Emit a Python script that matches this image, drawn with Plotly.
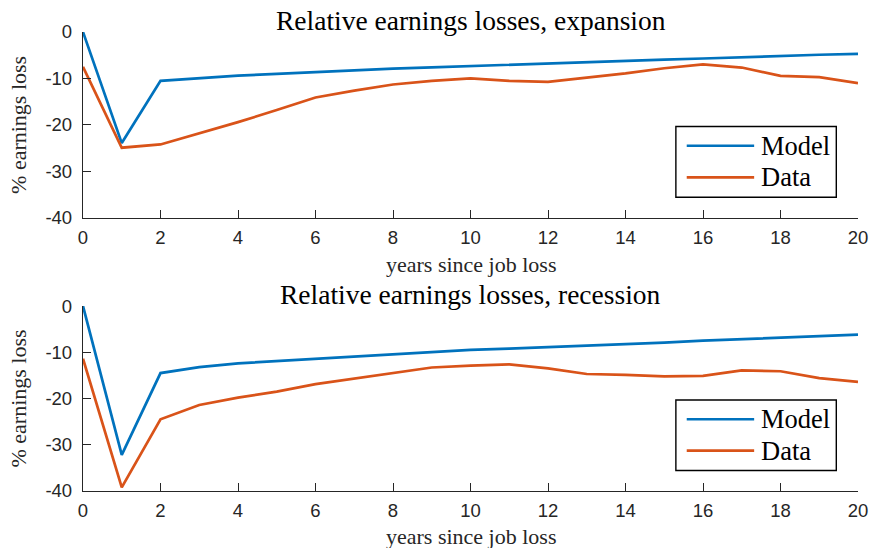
import plotly.graph_objects as go
from plotly.subplots import make_subplots

years = list(range(0, 21))

model_expansion = [0, -23.9, -10.5, -9.9, -9.4, -9.0, -8.6, -8.3, -7.9, -7.6, -7.3,
                   -7.0, -6.8, -6.5, -6.2, -5.95, -5.7, -5.4, -5.15, -4.9, -4.7]
data_expansion = [-7.5, -24.9, -24.2, -21.8, -19.4, -16.8, -14.1, -12.6, -11.3, -10.5, -10.0,
                  -10.5, -10.75, -9.8, -8.9, -7.8, -6.95, -7.65, -9.45, -9.7, -11.0]

model_recession = [0, -32.2, -14.5, -13.2, -12.4, -11.9, -11.4, -10.9, -10.4, -9.9, -9.5,
                   -9.2, -8.9, -8.55, -8.2, -7.9, -7.5, -7.2, -6.9, -6.55, -6.2]
data_recession = [-11.4, -39.2, -24.5, -21.4, -19.8, -18.5, -16.9, -15.7, -14.6, -13.3, -12.9,
                  -12.6, -13.5, -14.7, -14.9, -15.2, -15.1, -13.9, -14.1, -15.6, -16.4]

x_ticks = list(range(0, 21, 2))
y_ticks = [0, -10, -20, -30, -40]
y_tick_text = ["0", "-10", "-20", "-30", "-40"]

titles = ["Relative earnings losses, expansion", "Relative earnings losses, recession"]
series_names = ["Model", "Data"]
colors = ["#0072BD", "#D95319"]

fig = make_subplots(rows=2, cols=1, vertical_spacing=0.192)

panels = [(model_expansion, data_expansion), (model_recession, data_recession)]
for r, (m, d) in enumerate(panels, start=1):
    for vals, name, col in zip((m, d), series_names, colors):
        fig.add_trace(go.Scatter(x=years, y=vals, mode="lines", name=name,
                                 line=dict(color=col, width=2.7), cliponaxis=False,
                                 showlegend=False), row=r, col=1)

axis_color = "#262626"
tickfont = dict(family="Liberation Sans, Arial, sans-serif", size=18.5, color=axis_color)
for r in (1, 2):
    fig.update_xaxes(range=[0, 20], tickvals=x_ticks, ticks="inside", ticklen=8,
                     tickcolor=axis_color, tickwidth=1.2, showline=True, linecolor=axis_color,
                     linewidth=1.3, showgrid=False, zeroline=False, tickfont=tickfont,
                     ticklabelstandoff=3, automargin=False, row=r, col=1)
    fig.update_yaxes(range=[-40, 0], tickvals=y_ticks, ticktext=y_tick_text, ticks="inside",
                     ticklen=8, tickcolor=axis_color, tickwidth=1.2, showline=True,
                     linecolor=axis_color, linewidth=1.3, showgrid=False, zeroline=False,
                     tickfont=tickfont, ticklabelstandoff=6, automargin=False, row=r, col=1)

fig.update_layout(width=872, height=548, paper_bgcolor="white", plot_bgcolor="white",
                  margin=dict(l=83, r=14, t=32, b=57), showlegend=False)
fig.update_layout(yaxis=dict(domain=[0.595, 1.0]), yaxis2=dict(domain=[0.0, 0.403]))

serif = "Liberation Serif, Times New Roman, serif"
anns = []
shapes = []
axes_ids = [("x", "y"), ("x2", "y2")]
title_shift = [12, 12]
xlabel_shift = [-47, -45]
for i, (xa, ya) in enumerate(axes_ids):
    xd, yd = xa + " domain", ya + " domain"
    anns.append(dict(text=titles[i], xref=xd, yref=yd, x=0.5, y=1.0, yshift=title_shift[i],
                     xanchor="center", yanchor="middle", showarrow=False,
                     font=dict(family=serif, size=27.5, color="black")))
    anns.append(dict(text="years since job loss", xref=xd, yref=yd, x=0.5, y=0,
                     yshift=xlabel_shift[i], xanchor="center", yanchor="middle",
                     showarrow=False, font=dict(family=serif, size=22, color=axis_color)))
    anns.append(dict(text="% earnings loss", xref=xd, yref=yd, x=0, xshift=-64, y=0.5,
                     xanchor="center", yanchor="middle", textangle=-90, showarrow=False,
                     font=dict(family=serif, size=22, color=axis_color)))
    # legend box (in axis domain coordinates)
    shapes.append(dict(type="rect", xref=xd, yref=yd, x0=0.765, x1=0.972, y0=0.111, y1=0.492,
                       line=dict(color="black", width=1.4), fillcolor="white", layer="above"))
    for j, (name, col) in enumerate(zip(series_names, colors)):
        ly = 0.388 - j * 0.17
        shapes.append(dict(type="line", xref=xd, yref=yd, x0=0.779, x1=0.866, y0=ly, y1=ly,
                           line=dict(color=col, width=2.7), layer="above"))
        anns.append(dict(text=name, xref=xd, yref=yd, x=0.872, y=ly, xanchor="left",
                         yanchor="middle", showarrow=False,
                         font=dict(family=serif, size=26.5, color="black")))

fig.update_layout(annotations=anns, shapes=shapes)
fig.write_html("out.html", config={"displayModeBar": False},
               post_script="document.body.style.margin='0';")
